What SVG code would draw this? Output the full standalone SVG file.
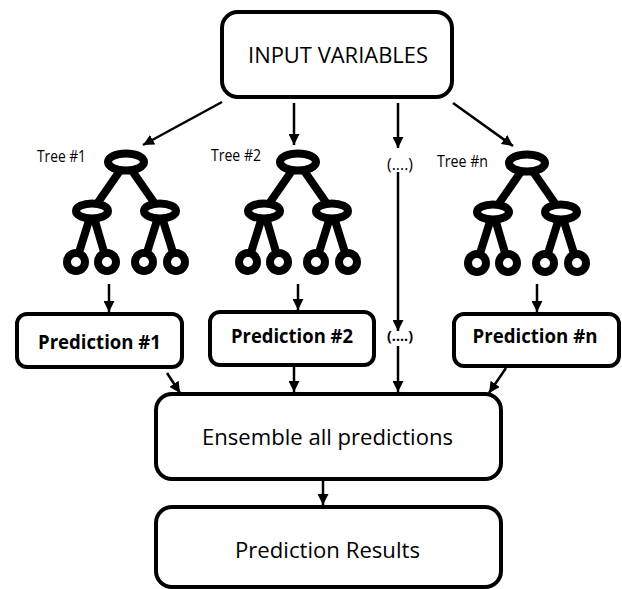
<svg xmlns="http://www.w3.org/2000/svg" xmlns:xlink="http://www.w3.org/1999/xlink" width="622" height="589" viewBox="0 0 622 589">
<style>
.box{fill:#fff;stroke:#000;stroke-width:4}
.t{font-family:"Open Sans","Liberation Sans",sans-serif;fill:#000}
.big{font-size:22px}
.bold{font-size:20px;font-weight:bold}
.small{font-size:16px}
.conn{stroke:#000;stroke-width:2.5;fill:none;marker-end:url(#arr)}
.tl{stroke:#000;stroke-width:8;stroke-linecap:round}
.tn{fill:#fff;stroke:#000;stroke-width:8}
</style>
<defs>
<marker id="arr" markerUnits="userSpaceOnUse" markerWidth="11" markerHeight="11" refX="10" refY="5" orient="auto" viewBox="0 0 10 10">
<path d="M0,0 L10,5 L0,10 z" fill="#000"/>
</marker>
<g id="treeIcon">
<line class="tl" x1="0" y1="0" x2="-34" y2="49"/>
<line class="tl" x1="0" y1="0" x2="34" y2="49"/>
<line class="tl" x1="-34" y1="49" x2="-50" y2="100"/>
<line class="tl" x1="-34" y1="49" x2="-19" y2="100"/>
<line class="tl" x1="34" y1="49" x2="18" y2="100"/>
<line class="tl" x1="34" y1="49" x2="50" y2="100"/>
<ellipse class="tn" cx="0" cy="0" rx="18" ry="8.5"/>
<ellipse class="tn" cx="-34" cy="49" rx="16" ry="7.5"/>
<ellipse class="tn" cx="34" cy="49" rx="16" ry="7.5"/>
<circle class="tn" cx="-50" cy="100" r="9"/>
<circle class="tn" cx="-19" cy="100" r="9"/>
<circle class="tn" cx="18" cy="100" r="9"/>
<circle class="tn" cx="50" cy="100" r="9"/>
</g>
</defs>

<g id="connectors">
<line class="conn" x1="222" y1="102" x2="143" y2="145"/>
<line class="conn" x1="294" y1="103" x2="294" y2="145"/>
<line class="conn" x1="398" y1="103" x2="398" y2="148"/>
<line class="conn" x1="453" y1="103" x2="513" y2="146"/>
<line class="conn" x1="398" y1="172" x2="398" y2="331"/>
<line class="conn" x1="109" y1="284" x2="109" y2="312"/>
<line class="conn" x1="298" y1="284" x2="298" y2="310"/>
<line class="conn" x1="537" y1="284" x2="537" y2="312"/>
<line class="conn" x1="167" y1="373" x2="180" y2="393"/>
<line class="conn" x1="294" y1="366" x2="294" y2="392"/>
<line class="conn" x1="398" y1="346" x2="398" y2="392"/>
<line class="conn" x1="506" y1="368" x2="489" y2="393"/>
<line class="conn" x1="323" y1="481" x2="323" y2="505"/>
</g>

<g id="input">
<rect class="box" x="222" y="12" width="230" height="85" rx="16"/>
<text class="t big" x="338" y="63" text-anchor="middle" textLength="180" lengthAdjust="spacingAndGlyphs">INPUT VARIABLES</text>
</g>

<g id="tree1">
<use xlink:href="#treeIcon" transform="translate(126,162)"/>
<text class="t small" x="37" y="162" textLength="49" lengthAdjust="spacingAndGlyphs">Tree #1</text>
</g>
<g id="tree2">
<use xlink:href="#treeIcon" transform="translate(298,162)"/>
<text class="t small" x="211" y="161" textLength="50" lengthAdjust="spacingAndGlyphs">Tree #2</text>
</g>
<g id="ellipsis1">
<text class="t small" x="400" y="170" text-anchor="middle" textLength="26" lengthAdjust="spacingAndGlyphs">(....)</text>
</g>
<g id="treen">
<use xlink:href="#treeIcon" transform="translate(527,163)"/>
<text class="t small" x="437" y="167" textLength="51" lengthAdjust="spacingAndGlyphs">Tree #n</text>
</g>

<g id="pred1">
<rect class="box" x="17" y="314" width="165" height="53" rx="10"/>
<text class="t bold" x="99.5" y="349" text-anchor="middle" textLength="123" lengthAdjust="spacingAndGlyphs">Prediction #1</text>
</g>
<g id="pred2">
<rect class="box" x="210" y="312" width="164" height="53" rx="10"/>
<text class="t bold" x="292" y="343" text-anchor="middle" textLength="122" lengthAdjust="spacingAndGlyphs">Prediction #2</text>
</g>
<g id="ellipsis2">
<text class="t" style="font-size:14px;font-weight:bold" x="400" y="341" text-anchor="middle" textLength="26" lengthAdjust="spacingAndGlyphs">(....)</text>
</g>
<g id="predn">
<rect class="box" x="454" y="314" width="165" height="52" rx="10"/>
<text class="t bold" x="535" y="343" text-anchor="middle" textLength="125" lengthAdjust="spacingAndGlyphs">Prediction #n</text>
</g>

<g id="ensemble">
<rect class="box" x="156" y="394" width="345" height="85" rx="16"/>
<text class="t big" x="327.5" y="445" text-anchor="middle" textLength="251" lengthAdjust="spacingAndGlyphs">Ensemble all predictions</text>
</g>
<g id="results">
<rect class="box" x="156" y="507" width="345" height="80" rx="16"/>
<text class="t big" x="327.5" y="558" text-anchor="middle" textLength="185" lengthAdjust="spacingAndGlyphs">Prediction Results</text>
</g>
</svg>
